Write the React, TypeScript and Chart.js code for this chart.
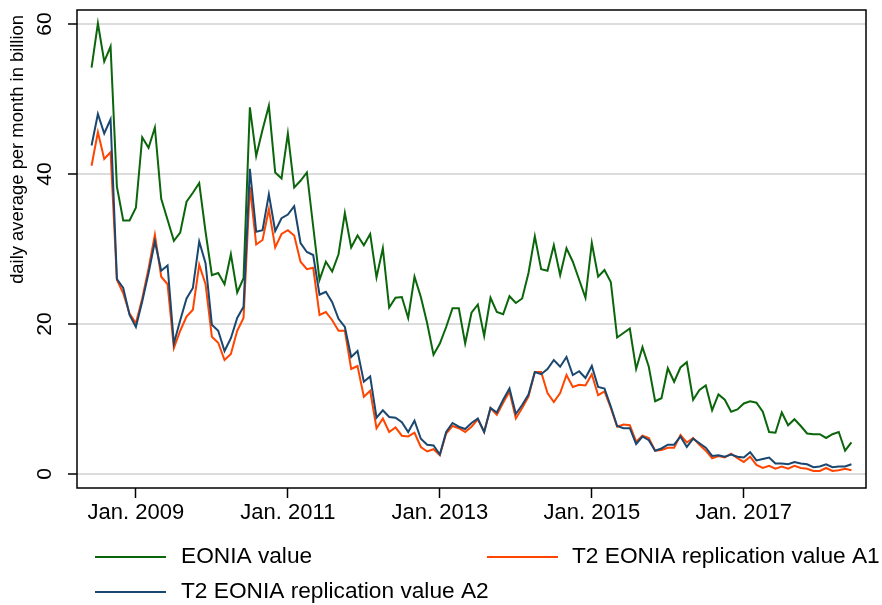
import React, { useEffect, useRef } from "react";
import { Chart, registerables } from "chart.js";

Chart.register(...registerables);

// Monthly observations, June 2008 (index 0) to June 2018 (index 120)
const eoniaValue = [
  54.2, 60.1, 55.0, 57.0, 38.3, 33.8, 33.8, 35.5, 44.9, 43.5, 46.2, 36.7, 33.9, 31.1, 32.2, 36.3, 37.5, 38.8, 32.3, 26.5,
  26.8, 25.3, 29.3, 24.2, 26.1, 48.9, 42.4, 45.9, 49.1, 40.2, 39.4, 45.4, 38.2, 39.1, 40.2, 33.0, 25.9, 28.3, 27.0, 29.3,
  34.8, 30.2, 31.8, 30.5, 32.0, 26.2, 30.1, 22.2, 23.5, 23.6, 20.8, 26.3, 23.6, 20.1, 15.9, 17.4, 19.6, 22.1, 22.1, 17.4,
  21.5, 22.6, 18.4, 23.5, 21.6, 21.3, 23.7, 22.8, 23.4, 26.8, 31.7, 27.3, 27.1, 30.5, 26.5, 30.1, 28.3, 25.9, 23.5, 30.8,
  26.3, 27.2, 25.6, 18.2, 18.8, 19.4, 14.0, 16.9, 14.3, 9.7, 10.1, 14.1, 12.3, 14.2, 14.9, 9.9, 11.2, 11.8, 8.5, 10.6,
  9.9, 8.3, 8.6, 9.4, 9.7, 9.5, 8.3, 5.6, 5.5, 8.2, 6.5, 7.3, 6.4, 5.4, 5.3, 5.3, 4.8, 5.3, 5.6, 3.1,
  4.2,
];
const replicationA1 = [
  41.1, 45.6, 42.0, 42.9, 25.9, 24.1, 21.4, 20.1, 23.4, 27.4, 31.9, 26.3, 25.3, 16.8, 19.1, 21.0, 21.9, 27.9, 25.3, 18.3,
  17.5, 15.2, 16.0, 19.1, 20.8, 38.3, 30.6, 31.2, 35.3, 30.2, 32.0, 32.5, 31.8, 28.3, 27.3, 27.5, 21.2, 21.6, 20.5, 19.1,
  19.1, 14.0, 14.4, 10.3, 11.1, 6.1, 7.4, 5.6, 6.2, 5.1, 5.0, 5.5, 3.6, 3.0, 3.3, 2.5, 5.4, 6.4, 6.1, 5.6,
  6.3, 7.3, 5.6, 8.8, 7.9, 9.5, 11.0, 7.4, 8.8, 10.3, 13.6, 13.6, 10.8, 9.6, 10.8, 13.2, 11.6, 11.9, 11.8, 13.3,
  10.5, 11.0, 8.8, 6.3, 6.6, 6.5, 4.3, 5.1, 4.8, 3.1, 3.2, 3.5, 3.5, 5.2, 4.2, 4.8, 3.9, 3.1, 2.1, 2.4,
  2.2, 2.7, 2.1, 1.6, 2.3, 1.2, 0.8, 1.1, 0.7, 1.0, 0.7, 1.1, 0.8, 0.7, 0.4, 0.4, 0.8, 0.4, 0.5, 0.7,
  0.5,
];
const replicationA2 = [
  43.8, 48.0, 45.4, 47.3, 26.0, 24.8, 21.2, 19.6, 23.0, 26.8, 31.0, 27.1, 27.8, 17.4, 20.5, 23.4, 24.8, 31.0, 28.1, 19.9,
  19.1, 16.4, 18.1, 20.8, 22.3, 40.7, 32.3, 32.5, 37.3, 32.4, 34.1, 34.6, 35.7, 30.8, 29.6, 29.2, 23.9, 24.3, 22.9, 20.7,
  19.6, 15.6, 16.4, 12.3, 13.0, 7.5, 8.5, 7.6, 7.5, 6.9, 5.6, 7.1, 4.7, 3.9, 3.8, 2.6, 5.6, 6.8, 6.3, 6.0,
  6.8, 7.4, 5.6, 8.8, 8.2, 9.9, 11.4, 8.0, 9.2, 10.6, 13.6, 13.3, 14.0, 15.2, 14.3, 15.6, 13.2, 13.7, 12.8, 14.4,
  11.6, 11.4, 9.0, 6.4, 6.1, 6.1, 4.0, 5.0, 4.5, 3.1, 3.4, 3.9, 3.9, 5.0, 3.6, 4.7, 4.1, 3.5, 2.4, 2.5,
  2.3, 2.6, 2.3, 2.2, 2.9, 1.8, 2.0, 2.2, 1.4, 1.4, 1.3, 1.6, 1.4, 1.3, 0.9, 1.0, 1.3, 0.9, 1.0, 1.0,
  1.3,
];

const xTickMonths = [7, 31, 55, 79, 103];
const xTickLabels = ["Jan. 2009", "Jan. 2011", "Jan. 2013", "Jan. 2015", "Jan. 2017"];
const yTickValues = [0, 20, 40, 60];
const seriesLabels = ["EONIA value", "T2 EONIA replication value A1", "T2 EONIA replication value A2"];
const seriesColors = ["#0b660b", "#ff4500", "#1a476f"];
const yAxisTitle = "daily average per month in billion";

const FONT = '"Liberation Sans", Arial, sans-serif';

const stataPlugin = {
  id: "stataDecor",
  afterDraw(chart: any) {
    const { ctx, chartArea: a, scales } = chart;
    const ys = scales.y;
    ctx.save();
    // plot region frame
    ctx.strokeStyle = "#000";
    ctx.lineWidth = 1.5;
    ctx.strokeRect(a.left, a.top, a.right - a.left, a.bottom - a.top);

    // rotated y tick labels
    ctx.fillStyle = "#000";
    ctx.font = `21px ${FONT}`;
    ctx.textAlign = "center";
    ctx.textBaseline = "middle";
    ys.ticks.forEach((t: any) => {
      const py = ys.getPixelForValue(t.value);
      ctx.save();
      ctx.translate(45, py);
      ctx.rotate(-Math.PI / 2);
      ctx.fillText(String(t.value), 0, 0);
      ctx.restore();
    });

    // y axis title
    ctx.font = `18.4px ${FONT}`;
    ctx.save();
    ctx.translate(18, a.top + 5);
    ctx.rotate(-Math.PI / 2);
    ctx.textAlign = "right";
    ctx.fillText(yAxisTitle, 0, 0);
    ctx.restore();

    // legend (two columns)
    const slots = [
      { x0: 95, x1: 166, tx: 181, y: 557 },
      { x0: 487, x1: 558, tx: 572, y: 557 },
      { x0: 95, x1: 166, tx: 181, y: 592 },
    ];
    ctx.font = `22.7px ${FONT}`;
    ctx.textAlign = "left";
    ctx.textBaseline = "middle";
    chart.data.datasets.forEach((ds: any, i: number) => {
      const s = slots[i];
      ctx.strokeStyle = ds.borderColor;
      ctx.lineWidth = 2;
      ctx.beginPath();
      ctx.moveTo(s.x0, s.y);
      ctx.lineTo(s.x1, s.y);
      ctx.stroke();
      ctx.fillStyle = "#000";
      ctx.fillText(ds.label, s.tx, s.y);
    });
    ctx.restore();
  },
};

export default function App() {
  const canvasRef = useRef<HTMLCanvasElement | null>(null);

  useEffect(() => {
    if (!canvasRef.current) return;
    const series = [eoniaValue, replicationA1, replicationA2];
    const chart = new Chart(canvasRef.current, {
      type: "line",
      data: {
        datasets: series.map((vals, k) => ({
          label: seriesLabels[k],
          data: vals.map((v, i) => ({ x: i, y: v })),
          borderColor: seriesColors[k],
          backgroundColor: seriesColors[k],
          borderWidth: 2,
          pointRadius: 0,
          tension: 0,
          fill: false,
          order: 2 - k,
        })),
      },
      options: {
        animation: false,
        responsive: true,
        maintainAspectRatio: false,
        layout: { padding: { left: 0, right: 16, top: 10, bottom: 0 } },
        plugins: { legend: { display: false }, tooltip: { enabled: false }, title: { display: false } },
        scales: {
          x: {
            type: "linear",
            min: -2.3,
            max: 122.3,
            afterBuildTicks: (scale: any) => {
              scale.ticks = xTickMonths.map((v) => ({ value: v }));
            },
            afterFit: (scale: any) => {
              scale.height = 117;
            },
            ticks: {
              autoSkip: false,
              maxRotation: 0,
              minRotation: 0,
              padding: 2,
              color: "#000",
              font: { family: FONT, size: 22 },
              callback: (v: any) => {
                const idx = xTickMonths.indexOf(Number(v));
                return idx >= 0 ? xTickLabels[idx] : "";
              },
            },
            grid: {
              display: true,
              drawOnChartArea: false,
              drawTicks: true,
              tickLength: 10,
              tickColor: "#000",
              tickWidth: 1.5,
            },
            border: { display: false },
          },
          y: {
            type: "linear",
            min: -1.87,
            max: 61.87,
            afterBuildTicks: (scale: any) => {
              scale.ticks = yTickValues.map((v) => ({ value: v }));
            },
            afterFit: (scale: any) => {
              scale.width = 77;
            },
            ticks: { display: false },
            grid: {
              display: true,
              drawOnChartArea: true,
              color: "#dcdcdc",
              lineWidth: 2,
              drawTicks: true,
              tickLength: 9,
              tickColor: "#000",
              tickWidth: 1.5,
            },
            border: { display: false },
          },
        },
      },
      plugins: [stataPlugin],
    });
    return () => chart.destroy();
  }, []);

  return (
    <div style={{ position: "absolute", left: 0, top: 0, width: 882, height: 605, background: "#fff" }}>
      <canvas ref={canvasRef} />
    </div>
  );
}
